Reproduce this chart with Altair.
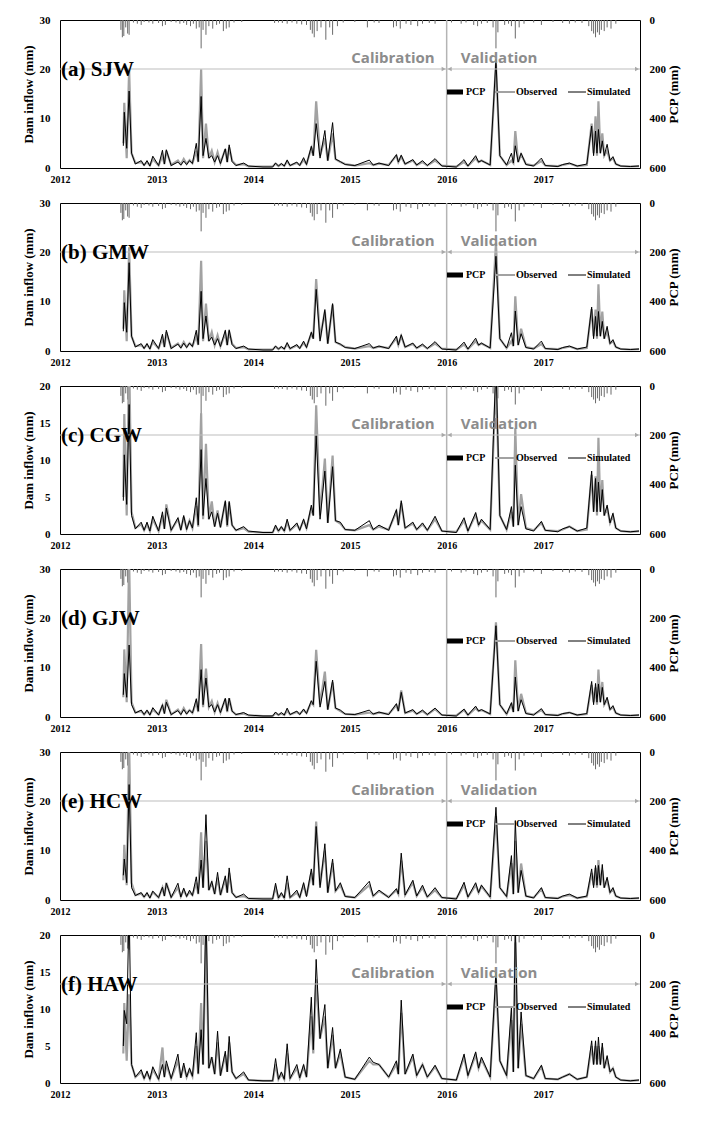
import altair as alt
import pandas as pd

# ---- time grid (decimal years) shared by all basins ----
T = [2012.655, 2012.665, 2012.69, 2012.715, 2012.74, 2012.78, 2012.84, 2012.87, 2012.90, 2012.93,
     2012.96, 2013.02, 2013.06, 2013.08, 2013.10, 2013.15, 2013.22, 2013.25, 2013.28, 2013.31,
     2013.34, 2013.37, 2013.41, 2013.43, 2013.46, 2013.48, 2013.51, 2013.54, 2013.57, 2013.60,
     2013.63, 2013.66, 2013.71, 2013.73, 2013.75, 2013.78, 2013.82, 2013.90, 2013.95, 2014.10,
     2014.20, 2014.23, 2014.26, 2014.29, 2014.32, 2014.35, 2014.38, 2014.45, 2014.48, 2014.52,
     2014.55, 2014.60, 2014.62, 2014.65, 2014.69, 2014.74, 2014.77, 2014.82, 2014.85, 2014.90,
     2014.95, 2015.05, 2015.20, 2015.24, 2015.30, 2015.40, 2015.48, 2015.50, 2015.53, 2015.57,
     2015.65, 2015.69, 2015.75, 2015.80, 2015.88, 2015.95, 2016.10, 2016.18, 2016.22, 2016.30,
     2016.33, 2016.36, 2016.45, 2016.51, 2016.55, 2016.62, 2016.67, 2016.69, 2016.71, 2016.74,
     2016.77, 2016.82, 2016.90, 2016.98, 2017.02, 2017.15, 2017.20, 2017.27, 2017.35, 2017.45,
     2017.50, 2017.52, 2017.54, 2017.555, 2017.57, 2017.59, 2017.61, 2017.63, 2017.66, 2017.69,
     2017.72, 2017.75, 2017.80, 2017.90, 2017.99]

# ---- (a) SJW ----
A_OBS = [5, 13.2, 2.0, 20.0, 3.0, 1.0, 1.2, 0.6, 1.2, 0.5,
         1.8, 0.5, 2.5, 0.8, 3.5, 0.6, 1.5, 0.7, 1.8, 0.8,
         1.6, 1.0, 3.5, 1.2, 20.0, 2.0, 9.0, 2.0, 3.5, 1.2,
         3.2, 1.0, 3.8, 1.2, 4.2, 1.5, 0.6, 0.8, 0.3, 0.3,
         0.3, 0.9, 0.4, 0.8, 0.4, 1.4, 0.5, 1.0, 0.6, 1.6,
         0.8, 4.0, 2.5, 13.5, 2.5, 6.0, 1.5, 7.0, 1.8, 1.2,
         0.8, 0.5, 1.0, 0.6, 0.9, 0.6, 2.5, 1.2, 2.3, 0.8,
         1.5, 0.6, 1.2, 0.5, 1.5, 0.5, 0.3, 1.2, 0.4, 2.0,
         1.2, 1.5, 0.6, 21.0, 2.5, 0.6, 1.5, 1.0, 7.5, 1.2,
         2.8, 0.8, 0.5, 1.4, 0.5, 0.4, 0.6, 0.9, 0.4, 0.6,
         9.0, 3.0, 10.5, 2.5, 13.5, 3.0, 7.0, 2.5, 3.5, 1.5,
         2.0, 0.8, 0.4, 0.3, 0.4]
A_SIM = [4.5, 11.3, 4.0, 15.6, 3.0, 0.8, 1.5, 0.5, 1.5, 0.4,
         2.4, 0.5, 3.6, 0.8, 3.7, 0.5, 1.2, 0.6, 1.4, 0.7,
         1.5, 0.9, 5.0, 1.3, 14.5, 2.5, 6.0, 2.0, 2.5, 1.2,
         2.5, 0.9, 3.9, 1.2, 4.7, 1.3, 0.5, 1.0, 0.4, 0.2,
         0.2, 1.0, 0.4, 0.9, 0.4, 1.6, 0.5, 1.2, 0.5, 2.1,
         0.7, 4.4, 2.5, 9.0, 2.0, 7.6, 1.5, 9.2, 1.8, 1.3,
         0.7, 0.5, 1.6, 0.6, 1.0, 0.5, 2.7, 1.2, 2.6, 0.8,
         1.7, 0.6, 1.5, 0.5, 1.9, 0.4, 0.2, 1.7, 0.4, 2.5,
         1.2, 1.5, 0.6, 22.0, 2.5, 0.6, 3.0, 1.0, 4.5, 1.2,
         3.0, 0.7, 0.4, 2.0, 0.5, 0.3, 0.7, 1.0, 0.4, 0.8,
         8.5, 2.5, 7.5, 3.0, 7.8, 3.0, 5.5, 2.5, 4.8, 1.5,
         2.3, 0.8, 0.4, 0.3, 0.4]

# ---- (b) GMW ----
B_OBS = [4.5, 12.3, 2.0, 21.0, 3.0, 1.0, 1.2, 0.6, 1.3, 0.5,
         1.8, 0.5, 2.6, 0.8, 3.8, 0.6, 1.5, 0.7, 1.8, 0.8,
         1.6, 1.0, 3.0, 1.2, 18.3, 2.0, 9.6, 2.0, 3.8, 1.2,
         3.2, 1.0, 3.6, 1.2, 4.0, 1.5, 0.6, 0.8, 0.3, 0.3,
         0.3, 0.9, 0.4, 0.8, 0.4, 1.4, 0.5, 1.1, 0.6, 1.6,
         0.8, 3.5, 2.5, 14.6, 2.5, 8.0, 1.5, 9.4, 1.8, 1.3,
         0.8, 0.5, 1.0, 0.6, 0.9, 0.6, 2.6, 1.2, 3.0, 0.8,
         1.4, 0.6, 1.2, 0.5, 1.5, 0.5, 0.3, 1.3, 0.4, 2.0,
         1.2, 1.5, 0.6, 22.0, 2.5, 0.6, 2.0, 1.0, 11.1, 1.2,
         4.5, 0.8, 0.5, 1.4, 0.5, 0.4, 0.6, 0.9, 0.4, 0.6,
         8.5, 3.0, 8.4, 2.5, 13.5, 3.0, 8.0, 2.5, 4.0, 1.5,
         2.0, 0.8, 0.4, 0.3, 0.4]
B_SIM = [4.0, 9.8, 3.8, 17.9, 3.0, 0.8, 1.5, 0.5, 1.5, 0.4,
         2.3, 0.5, 3.4, 0.8, 4.2, 0.5, 1.4, 0.6, 1.6, 0.7,
         1.6, 0.9, 4.2, 1.3, 12.1, 2.5, 7.1, 2.0, 2.8, 1.2,
         2.5, 0.9, 4.2, 1.2, 4.3, 1.3, 0.5, 1.0, 0.4, 0.2,
         0.2, 1.0, 0.4, 0.9, 0.4, 1.7, 0.5, 1.3, 0.5, 2.0,
         0.7, 3.8, 2.5, 12.5, 2.0, 8.4, 1.5, 9.6, 1.8, 1.4,
         0.7, 0.5, 1.5, 0.6, 1.0, 0.5, 3.0, 1.2, 3.3, 0.8,
         1.6, 0.6, 1.4, 0.5, 1.9, 0.4, 0.2, 1.8, 0.4, 2.6,
         1.2, 1.6, 0.6, 19.2, 2.5, 0.6, 3.7, 1.0, 8.1, 1.2,
         3.5, 0.7, 0.4, 2.0, 0.5, 0.3, 0.7, 1.0, 0.4, 0.8,
         8.9, 2.5, 7.0, 3.0, 8.0, 3.0, 6.0, 2.5, 5.0, 1.5,
         2.3, 0.8, 0.4, 0.3, 0.4]

# ---- (c) CGW ----
C_OBS = [5.0, 16.2, 2.5, 24.0, 3.0, 0.8, 1.3, 0.5, 1.3, 0.4,
         2.0, 0.4, 2.5, 0.7, 4.0, 0.5, 2.0, 0.6, 2.3, 0.7,
         1.8, 0.8, 3.8, 1.0, 16.3, 2.0, 12.2, 2.0, 4.4, 1.0,
         3.2, 0.9, 4.3, 1.0, 4.2, 1.2, 0.5, 0.8, 0.3, 0.2,
         0.2, 1.0, 0.4, 0.9, 0.4, 1.6, 0.5, 1.3, 0.6, 1.8,
         0.8, 3.5, 2.5, 17.4, 2.5, 10.2, 1.5, 10.6, 1.8, 1.4,
         0.6, 0.5, 1.2, 0.6, 1.0, 0.6, 3.0, 1.2, 4.2, 0.8,
         1.4, 0.6, 1.3, 0.5, 2.0, 0.4, 0.3, 1.8, 0.4, 2.6,
         1.2, 1.8, 0.6, 21.0, 2.5, 0.6, 3.0, 1.0, 14.3, 1.2,
         5.4, 0.8, 0.5, 1.5, 0.5, 0.4, 0.6, 1.0, 0.4, 0.6,
         8.0, 3.0, 7.8, 2.5, 13.0, 3.0, 7.3, 2.5, 3.5, 1.5,
         2.5, 0.8, 0.4, 0.3, 0.4]
C_SIM = [4.5, 10.7, 4.0, 17.5, 2.5, 0.7, 1.6, 0.5, 1.6, 0.4,
         2.4, 0.4, 3.0, 0.7, 3.5, 0.5, 2.2, 0.5, 2.5, 0.6,
         1.8, 0.8, 4.9, 1.2, 11.4, 2.5, 7.5, 2.0, 3.0, 1.0,
         2.8, 0.9, 4.5, 1.2, 4.4, 1.2, 0.5, 1.0, 0.4, 0.2,
         0.2, 1.2, 0.4, 1.0, 0.4, 2.0, 0.5, 1.5, 0.5, 2.0,
         0.7, 3.9, 2.5, 13.3, 2.0, 8.5, 1.5, 9.1, 1.8, 1.6,
         0.6, 0.5, 1.8, 0.6, 1.2, 0.5, 3.3, 1.2, 4.5, 0.8,
         1.6, 0.6, 1.5, 0.5, 2.4, 0.4, 0.2, 2.2, 0.4, 2.9,
         1.2, 2.0, 0.6, 23.0, 2.5, 0.6, 3.7, 1.0, 9.3, 1.2,
         3.7, 0.7, 0.4, 1.7, 0.5, 0.3, 0.7, 1.0, 0.4, 0.8,
         8.5, 3.0, 7.5, 3.0, 7.0, 3.0, 6.0, 2.5, 3.9, 1.5,
         2.8, 0.8, 0.4, 0.3, 0.4]

# ---- (d) GJW ----
D_OBS = [4.0, 13.7, 3.0, 32.0, 3.0, 0.9, 1.2, 0.5, 1.2, 0.5,
         1.5, 0.5, 2.3, 0.7, 3.5, 0.5, 1.5, 0.6, 1.8, 0.7,
         1.4, 0.8, 3.0, 1.0, 14.8, 2.0, 9.8, 2.0, 3.2, 1.0,
         2.8, 0.9, 3.6, 1.0, 3.8, 1.2, 0.5, 0.7, 0.3, 0.2,
         0.2, 0.8, 0.4, 0.7, 0.4, 1.3, 0.5, 1.0, 0.6, 1.4,
         0.8, 3.0, 2.5, 13.6, 2.5, 9.2, 1.5, 7.0, 1.8, 1.2,
         0.6, 0.5, 0.9, 0.6, 0.9, 0.6, 2.4, 1.2, 5.4, 0.8,
         1.3, 0.6, 1.2, 0.5, 1.6, 0.4, 0.3, 1.4, 0.4, 1.8,
         1.2, 1.4, 0.6, 19.2, 2.5, 0.6, 2.5, 1.0, 11.5, 1.2,
         4.7, 0.8, 0.5, 1.4, 0.5, 0.4, 0.6, 0.9, 0.4, 0.6,
         6.5, 3.0, 6.0, 2.5, 9.6, 3.0, 7.1, 2.5, 3.5, 1.5,
         2.0, 0.8, 0.4, 0.3, 0.4]
D_SIM = [4.5, 8.8, 4.0, 14.6, 2.5, 0.8, 1.4, 0.5, 1.4, 0.4,
         1.9, 0.4, 2.5, 0.7, 3.0, 0.5, 1.3, 0.5, 1.5, 0.6,
         1.4, 0.8, 3.7, 1.2, 9.6, 2.5, 7.9, 2.0, 2.5, 1.0,
         2.5, 0.9, 3.8, 1.2, 3.8, 1.2, 0.5, 0.9, 0.4, 0.2,
         0.2, 1.0, 0.4, 0.9, 0.4, 1.8, 0.5, 1.2, 0.5, 1.6,
         0.7, 3.3, 2.5, 11.3, 2.0, 7.2, 1.5, 7.5, 1.8, 1.4,
         0.6, 0.5, 1.4, 0.6, 1.0, 0.5, 2.7, 1.2, 5.0, 0.8,
         1.5, 0.6, 1.4, 0.5, 1.8, 0.4, 0.2, 1.6, 0.4, 2.2,
         1.2, 1.5, 0.6, 18.5, 2.5, 0.6, 2.9, 1.0, 8.1, 1.2,
         3.5, 0.7, 0.4, 1.7, 0.5, 0.3, 0.7, 0.9, 0.4, 0.7,
         7.2, 2.5, 6.8, 3.0, 6.7, 3.0, 6.0, 2.5, 4.0, 1.5,
         2.3, 0.8, 0.4, 0.3, 0.4]

# ---- (e) HCW ----
E_OBS = [4.0, 11.2, 3.0, 32.0, 3.5, 1.0, 1.3, 0.6, 1.3, 0.5,
         1.6, 0.5, 2.5, 0.8, 3.5, 0.6, 2.5, 0.7, 2.0, 0.8,
         1.6, 1.0, 3.5, 1.2, 13.7, 2.5, 12.0, 2.0, 3.5, 1.2,
         4.5, 1.0, 4.2, 1.5, 5.5, 1.5, 0.6, 0.8, 0.3, 0.3,
         0.3, 2.5, 0.4, 1.2, 0.4, 3.5, 0.5, 1.5, 0.6, 3.0,
         0.8, 5.5, 3.0, 15.9, 3.0, 10.0, 1.5, 7.5, 1.8, 3.0,
         0.8, 0.5, 3.0, 0.8, 1.8, 0.6, 2.0, 1.2, 8.0, 1.0,
         3.5, 0.8, 2.5, 0.6, 2.0, 0.5, 0.3, 3.0, 0.6, 3.0,
         1.5, 2.8, 0.6, 17.0, 2.5, 0.7, 7.5, 1.2, 12.0, 1.5,
         7.4, 0.8, 0.5, 2.2, 0.5, 0.4, 0.7, 1.0, 0.4, 0.7,
         5.5, 3.0, 6.5, 2.5, 8.1, 3.0, 6.0, 2.5, 4.0, 1.5,
         2.2, 0.8, 0.4, 0.3, 0.4]
E_SIM = [5.0, 8.3, 3.5, 23.4, 2.5, 0.9, 1.5, 0.6, 1.5, 0.4,
         1.8, 0.5, 2.6, 0.8, 3.4, 0.5, 3.4, 0.6, 2.4, 0.7,
         2.0, 0.9, 4.7, 1.3, 8.1, 2.5, 17.3, 2.0, 3.8, 1.2,
         5.6, 1.0, 4.9, 1.5, 6.5, 1.5, 0.5, 1.2, 0.3, 0.2,
         0.2, 3.4, 0.4, 1.5, 0.4, 4.9, 0.5, 2.0, 0.5, 3.5,
         0.7, 6.3, 3.0, 14.9, 2.5, 11.4, 1.5, 8.3, 1.8, 3.5,
         0.7, 0.5, 3.8, 0.8, 2.0, 0.5, 2.3, 1.2, 9.5, 1.0,
         4.0, 0.8, 3.0, 0.6, 2.5, 0.5, 0.2, 3.6, 0.6, 3.5,
         1.5, 3.0, 0.6, 18.8, 2.5, 0.7, 9.0, 1.2, 16.1, 1.5,
         6.0, 0.8, 0.4, 2.5, 0.5, 0.3, 0.8, 1.2, 0.4, 0.8,
         6.3, 2.5, 7.0, 3.0, 7.0, 3.0, 7.2, 2.5, 4.6, 1.5,
         2.5, 0.8, 0.4, 0.3, 0.4]

# ---- (f) HAW ----
F_OBS = [4.0, 10.8, 3.0, 12.0, 2.5, 0.8, 1.5, 0.6, 1.4, 0.5,
         1.8, 0.5, 4.8, 0.8, 2.5, 0.6, 3.0, 0.7, 2.3, 0.8,
         1.8, 0.9, 5.0, 1.2, 10.8, 2.5, 20.0, 2.0, 3.5, 1.2,
         5.5, 1.0, 3.8, 1.5, 5.5, 1.5, 0.6, 1.2, 0.4, 0.3,
         0.3, 2.5, 0.5, 1.2, 0.5, 4.0, 0.6, 2.0, 0.7, 2.2,
         0.8, 9.0, 4.0, 14.0, 6.0, 9.0, 2.0, 6.5, 2.0, 4.0,
         0.8, 0.5, 3.0, 2.5, 2.5, 0.8, 2.5, 1.2, 9.5, 1.2,
         3.5, 1.0, 2.5, 0.8, 2.2, 0.6, 0.4, 3.5, 1.0, 3.8,
         2.0, 3.2, 0.8, 14.0, 3.0, 1.0, 8.5, 1.5, 19.0, 2.0,
         8.0, 1.0, 0.6, 2.2, 0.6, 0.5, 0.8, 1.2, 0.5, 0.8,
         5.0, 2.5, 5.0, 2.5, 5.0, 2.5, 4.8, 2.0, 3.2, 1.5,
         2.0, 0.8, 0.4, 0.3, 0.4]
F_SIM = [5.0, 9.8, 8.0, 24.0, 2.5, 0.8, 1.8, 0.6, 1.6, 0.5,
         2.2, 0.5, 2.5, 0.8, 3.0, 0.6, 3.9, 0.7, 2.7, 0.8,
         2.0, 0.9, 6.8, 1.3, 7.2, 2.5, 24.0, 2.0, 3.5, 1.2,
         7.0, 1.0, 4.3, 1.5, 6.3, 1.5, 0.6, 1.5, 0.4, 0.3,
         0.3, 3.3, 0.5, 1.5, 0.5, 5.3, 0.6, 2.5, 0.7, 2.5,
         0.8, 11.6, 4.5, 16.7, 6.0, 10.6, 2.0, 7.5, 2.0, 4.6,
         0.8, 0.5, 3.5, 2.8, 2.5, 0.8, 3.0, 1.2, 11.2, 1.2,
         3.9, 1.0, 2.5, 0.8, 2.4, 0.6, 0.4, 3.9, 1.0, 4.2,
         2.0, 3.5, 0.8, 15.0, 3.0, 1.0, 10.3, 1.5, 22.0, 2.0,
         9.6, 1.0, 0.6, 2.4, 0.6, 0.5, 0.8, 1.2, 0.5, 0.8,
         5.7, 2.5, 5.7, 2.5, 6.2, 2.5, 5.4, 2.0, 3.7, 1.5,
         2.0, 0.8, 0.4, 0.3, 0.4]

# ---- precipitation (mm), hanging bars from the top ----
PCP_T = [2012.63, 2012.645, 2012.66, 2012.68, 2012.70, 2012.715, 2012.76, 2012.80, 2012.84, 2012.87,
         2012.92, 2012.96, 2013.02, 2013.06, 2013.09, 2013.15, 2013.20, 2013.24, 2013.28, 2013.31,
         2013.35, 2013.38, 2013.41, 2013.44, 2013.46, 2013.48, 2013.51, 2013.54, 2013.58, 2013.62,
         2013.65, 2013.69, 2013.72, 2013.75, 2013.80, 2013.88, 2014.22, 2014.26, 2014.30, 2014.35,
         2014.40, 2014.45, 2014.50, 2014.55, 2014.59, 2014.61, 2014.63, 2014.66, 2014.70, 2014.75,
         2014.79, 2014.82, 2014.87, 2014.93, 2015.05, 2015.18, 2015.25, 2015.30, 2015.45, 2015.48,
         2015.52, 2015.58, 2015.63, 2015.70, 2015.75, 2015.82, 2015.88, 2016.05, 2016.15, 2016.20,
         2016.28, 2016.32, 2016.36, 2016.42, 2016.48, 2016.51, 2016.53, 2016.60, 2016.64, 2016.67,
         2016.71, 2016.75, 2016.80, 2016.90, 2016.98, 2017.10, 2017.20, 2017.27, 2017.33, 2017.40,
         2017.47, 2017.50, 2017.52, 2017.54, 2017.56, 2017.58, 2017.60, 2017.63, 2017.66, 2017.70,
         2017.75]
PCP_V = [40, 70, 65, 30, 55, 60, 10, 15, 20, 8,
         10, 15, 12, 25, 20, 8, 10, 15, 12, 20,
         25, 15, 35, 30, 115, 40, 60, 25, 35, 20,
         15, 45, 35, 30, 10, 8, 12, 10, 12, 15,
         10, 15, 18, 20, 40, 55, 70, 45, 30, 80,
         30, 60, 25, 10, 8, 30, 10, 12, 30, 25,
         35, 15, 20, 25, 15, 12, 15, 10, 15, 10,
         20, 25, 15, 12, 30, 115, 50, 20, 15, 25,
         75, 30, 15, 10, 20, 8, 12, 15, 10, 12,
         25, 45, 55, 70, 50, 60, 40, 45, 30, 35,
         15]

PANEL_LABELS = ["(a) SJW", "(b) GMW", "(c) CGW", "(d) GJW", "(e) HCW", "(f) HAW"]
OBS = [A_OBS, B_OBS, C_OBS, D_OBS, E_OBS, F_OBS]
SIM = [A_SIM, B_SIM, C_SIM, D_SIM, E_SIM, F_SIM]
Y_MAX = [30, 30, 20, 30, 30, 20]
INFLOW_TICKS = {30: [0, 10, 20, 30], 20: [0, 5, 10, 15, 20]}
PCP_TICKS = [0, 200, 400, 600]
YEAR_TICKS = [2012, 2013, 2014, 2015, 2016, 2017]
PERIOD_BOUNDS = [2012, 2016, 2018]
PERIOD_NAMES = ["Calibration", "Validation"]
SHOW_PERIODS = [True, True, True, False, True, True]
LEGEND_LABELS = ["PCP", "Observed", "Simulated"]

for s in OBS + SIM:
    assert len(s) == len(T)
assert len(PCP_T) == len(PCP_V)

SERIF = "Liberation Serif"
W, H = 580, 148
OBS_COLOR = "#a2a2a2"
ANNO_COLOR = "#8c8c8c"

x_scale = alt.Scale(domain=[PERIOD_BOUNDS[0], PERIOD_BOUNDS[-1]], nice=False, zero=False)
x_axis = alt.Axis(values=YEAR_TICKS, format="d", title=None, labelFontSize=10,
                  labelPadding=6, labelFlush=False, labelOverlap=False)


def xenc(field):
    return alt.X(f"{field}:Q", scale=x_scale, axis=x_axis)


pcp_df = pd.DataFrame({"t": PCP_T, "p": PCP_V})
per_df = pd.DataFrame({"start": PERIOD_BOUNDS[:-1], "end": PERIOD_BOUNDS[1:], "name": PERIOD_NAMES})
leg_df = pd.DataFrame({"label": LEGEND_LABELS})


def panel(i):
    ymax = Y_MAX[i]
    df = pd.DataFrame({"t": T, "obs": OBS[i], "sim": SIM[i]})
    ys = alt.Scale(domain=[0, ymax], nice=False)

    pcp = alt.Chart(pcp_df).mark_rule(color="#6a6a6a", strokeWidth=1).encode(
        x=xenc("t"),
        y=alt.Y("p:Q", scale=alt.Scale(domain=[0, 600], reverse=True, nice=False),
                axis=alt.Axis(values=PCP_TICKS, title="PCP (mm)", orient="right", titleAngle=270,
                              titleBaseline="top", labelPadding=9, titlePadding=2)),
        y2=alt.datum(0),
    )
    vline = alt.Chart(per_df.iloc[[1]]).mark_rule(color="#b4b4b4", strokeWidth=1.5).encode(
        x=xenc("start"))
    obs = alt.Chart(df).mark_line(color=OBS_COLOR, strokeWidth=2.2, clip=True).encode(
        x=xenc("t"),
        y=alt.Y("obs:Q", scale=ys,
                axis=alt.Axis(values=INFLOW_TICKS[ymax], title="Dam inflow (mm)", orient="left",
                              labelPadding=10, titlePadding=4)),
    )
    sim = alt.Chart(df).mark_line(color="black", strokeWidth=1, clip=True).encode(
        x=xenc("t"),
        y=alt.Y("sim:Q", scale=ys, axis=None),
    )
    layers = [pcp, vline, obs, sim]

    if SHOW_PERIODS[i]:
        arrow = alt.Chart(per_df).mark_rule(color="#bdbdbd", strokeWidth=1.2).encode(
            x=xenc("start"), x2="end:Q", y=alt.value(49))
        head_r = alt.Chart(per_df).mark_point(shape="triangle-right", filled=True, size=22,
                                              color="#a8a8a8", opacity=1, xOffset=-3).encode(
            x=xenc("end"), y=alt.value(49))
        head_l = alt.Chart(per_df).mark_point(shape="triangle-left", filled=True, size=22,
                                              color="#a8a8a8", opacity=1, xOffset=3).encode(
            x=xenc("start"), y=alt.value(49))
        cal = alt.Chart(per_df.iloc[[0]]).mark_text(
            align="right", baseline="middle", dx=-12, font="Open Sans", fontWeight="bold",
            fontSize=15, color=ANNO_COLOR).encode(x=xenc("end"), y=alt.value(38), text="name:N")
        val = alt.Chart(per_df.iloc[[1]]).mark_text(
            align="left", baseline="middle", dx=14, font="Open Sans", fontWeight="bold",
            fontSize=15, color=ANNO_COLOR).encode(x=xenc("start"), y=alt.value(38), text="name:N")
        layers += [arrow, head_r, head_l, cal, val]

    # legend
    one = pd.DataFrame({"k": [0]})
    lg_pcp = alt.Chart(one).mark_rule(color="black", strokeWidth=5).encode(
        x=alt.value(387), x2=alt.value(403), y=alt.value(72))
    lg_obs = alt.Chart(one).mark_rule(color=OBS_COLOR, strokeWidth=2).encode(
        x=alt.value(435), x2=alt.value(455), y=alt.value(72))
    lg_sim = alt.Chart(one).mark_rule(color="black", strokeWidth=1).encode(
        x=alt.value(508), x2=alt.value(526), y=alt.value(72))
    layers += [lg_pcp, lg_obs, lg_sim]
    for k, xpos in enumerate([406, 456, 527]):
        layers.append(
            alt.Chart(leg_df.iloc[[k]]).mark_text(
                align="left", baseline="middle", font=SERIF, fontWeight="bold", fontSize=10,
                color="black").encode(x=alt.value(xpos), y=alt.value(72), text="label:N"))

    lab = alt.Chart(pd.DataFrame({"label": [PANEL_LABELS[i]]})).mark_text(
        align="left", baseline="middle", font=SERIF, fontWeight="bold", fontSize=21,
        color="black").encode(x=alt.value(1), y=alt.value(50), text="label:N")
    layers.append(lab)

    return alt.layer(*layers).resolve_scale(y="independent").properties(width=W, height=H)


chart = alt.vconcat(*[panel(i) for i in range(6)], spacing=11).properties(
    padding={"left": 13, "top": 5, "right": 5, "bottom": 5}
).configure_view(stroke="black", strokeWidth=1).configure_axis(
    labelFont=SERIF, labelFontWeight="bold", labelColor="black", labelFontSize=11,
    titleFont=SERIF, titleFontWeight="bold", titleColor="black", titleFontSize=13,
    ticks=False, domain=False, grid=False,
)

chart.save("out.html", embed_options={"renderer": "svg", "actions": False})
